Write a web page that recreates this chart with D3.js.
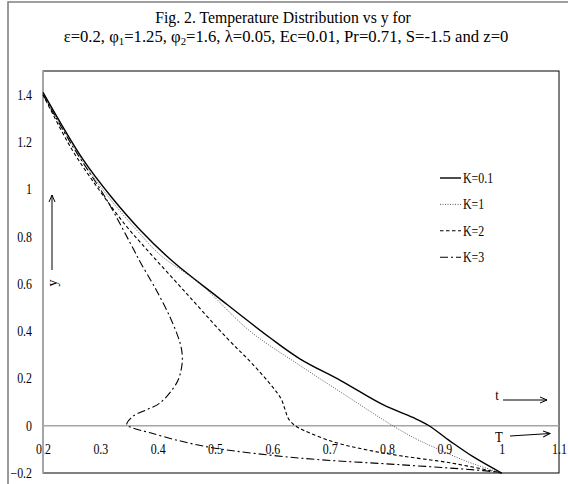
<!doctype html>
<html lang="en">
<head>
    <meta charset="utf-8">
    <title>Fig. 2 Temperature Distribution</title>
    <script src="https://d3js.org/d3.v7.min.js"></script>
    <style>
        body { margin: 0; background: #fff; }
        text { font-family: "Liberation Serif", "Times New Roman", serif; fill: #000; }
    </style>
</head>
<body>
<script>
    const width  = 568;
    const height = 484;

    // tick labels
    const xTicks = [0.2, 0.3, 0.4, 0.5, 0.6, 0.7, 0.8, 0.9, 1, 1.1];
    const yTicks = [-0.2, 0, 0.2, 0.4, 0.6, 0.8, 1, 1.2, 1.4];

    // series, [T, y] pairs
    const seriesNames = ["K=0.1", "K=1", "K=2", "K=3"];
    const curveK01 = [[0.2,1.41],[0.27,1.125],[0.32,0.965],[0.369,0.829],[0.427,0.693],[0.503,0.547],
        [0.596,0.372],[0.648,0.283],[0.72,0.19],[0.793,0.089],[0.845,0.035],[0.872,0.002],
        [0.91,-0.065],[0.95,-0.131],[1.0,-0.2]];
    const curveK1 = [[0.2,1.4],[0.27,1.115],[0.32,0.95],[0.369,0.812],[0.404,0.723],[0.474,0.6],
        [0.561,0.4],[0.648,0.255],[0.73,0.125],[0.81,0.0],[0.85,-0.055],[0.88,-0.089],
        [0.94,-0.152],[1.0,-0.2]];
    const curveK2 = [[0.2,1.4],[0.25,1.17],[0.3,0.99],[0.345,0.845],[0.381,0.745],[0.45,0.56],
        [0.521,0.37],[0.565,0.262],[0.6,0.165],[0.615,0.115],[0.622,0.07],[0.628,0.03],
        [0.64,0.0],[0.655,-0.02],[0.706,-0.068],[0.76,-0.1],[0.823,-0.127],[0.91,-0.157],[1.0,-0.2]];
    const curveK3 = [[0.2,1.4],[0.252,1.18],[0.311,0.956],[0.357,0.75],[0.37,0.69],[0.395,0.585],
        [0.421,0.462],[0.439,0.35],[0.443,0.293],[0.441,0.237],[0.433,0.18],[0.404,0.096],
        [0.381,0.068],[0.357,0.04],[0.346,0.004],[0.355,-0.008],[0.387,-0.03],[0.44,-0.065],
        [0.5,-0.095],[0.648,-0.137],[0.823,-0.165],[0.967,-0.19],[1.0,-0.2]];
    const curves = [curveK01, curveK1, curveK2, curveK3];

    // line styles per series
    const dashes  = [null, "1 1.5", "3.5 2.5", "8 3 2 3"];
    const colours = ["#000", "#444", "#000", "#000"];
    const widths  = [1.4, 0.9, 1.1, 1.1];

    const svg = d3.select("body").append("svg")
        .attr("width", width)
        .attr("height", height);

    svg.append("defs").append("marker")
        .attr("id", "arrow")
        .attr("viewBox", "0 0 8 8")
        .attr("refX", 7).attr("refY", 4)
        .attr("markerWidth", 8).attr("markerHeight", 8)
        .attr("markerUnits", "userSpaceOnUse")
        .attr("orient", "auto")
        .append("path")
        .attr("d", "M0,1 L7,4 L0,7")
        .attr("fill", "none")
        .attr("stroke", "#000")
        .attr("stroke-width", 1);

    // outer frame
    svg.append("path")
        .attr("d", "M8," + height + " L8,2 L" + width + ",2")
        .attr("fill", "none")
        .attr("stroke", "#808080")
        .attr("stroke-width", 1.6);

    // scales
    const x = d3.scaleLinear().domain([0.2, 1.1]).range([43, 559]);
    const y = d3.scaleLinear().domain([-0.2, 1.5]).range([473, 71]);

    // plot border
    svg.append("rect")
        .attr("x", x(0.2)).attr("y", y(1.5))
        .attr("width", x(1.1) - x(0.2))
        .attr("height", y(-0.2) - y(1.5))
        .attr("fill", "none")
        .attr("stroke", "#000")
        .attr("stroke-width", 1);

    // title
    function fit(sel, target) {
        const w = sel.node().getComputedTextLength();
        const t = sel.attr("data-t");
        sel.attr("transform", t + " scale(" + (target / w) + ",1)");
    }
    const t1 = svg.append("text")
        .attr("data-t", "translate(283,22.5)")
        .attr("text-anchor", "middle")
        .attr("font-size", 17)
        .text("Fig. 2. Temperature Distribution vs y for");
    fit(t1, 256);

    const t2 = svg.append("text")
        .attr("data-t", "translate(286,41.5)")
        .attr("text-anchor", "middle")
        .attr("font-size", 17);
    t2.append("tspan").text("ε=0.2, φ");
    t2.append("tspan").attr("font-size", 11).attr("dy", 3).text("1");
    t2.append("tspan").attr("dy", -3).text("=1.25, φ");
    t2.append("tspan").attr("font-size", 11).attr("dy", 3).text("2");
    t2.append("tspan").attr("dy", -3).text("=1.6, λ=0.05, Ec=0.01, Pr=0.71, S=-1.5 and z=0");
    fit(t2, 445);

    // axes
    const yAxis = svg.append("g")
        .attr("transform", "translate(" + x(0.2) + ",0)")
        .call(d3.axisLeft(y).tickValues(yTicks).tickSize(0).tickFormat(d3.format("")));
    yAxis.select(".domain").remove();
    yAxis.selectAll("text")
        .attr("x", 0)
        .attr("font-size", 14)
        .attr("font-family", "Liberation Serif")
        .attr("transform", "translate(-11,0) scale(0.85,1)");

    const xAxis = svg.append("g")
        .attr("transform", "translate(0," + y(0) + ")")
        .call(d3.axisBottom(x).tickValues(xTicks).tickSize(0).tickPadding(18).tickFormat(d3.format("")));
    xAxis.select(".domain").remove();
    xAxis.selectAll("text")
        .attr("font-size", 14)
        .attr("font-family", "Liberation Serif")
        .attr("transform", "scale(0.85,1)");

    // gray axis lines
    svg.append("line")
        .attr("x1", x(0.2)).attr("x2", x(1.1))
        .attr("y1", y(0)).attr("y2", y(0))
        .attr("stroke", "#a6a6a6").attr("stroke-width", 1.6);
    svg.append("line")
        .attr("x1", x(0.2)).attr("x2", x(0.2))
        .attr("y1", y(1.5)).attr("y2", y(-0.2))
        .attr("stroke", "#a6a6a6").attr("stroke-width", 2);

    // curves
    const line = d3.line()
        .x(d => x(d[0]))
        .y(d => y(d[1]))
        .curve(d3.curveCatmullRom.alpha(0.5));

    svg.selectAll("path.series")
        .data(curves)
        .enter()
        .append("path")
        .attr("class", "series")
        .attr("d", line)
        .attr("fill", "none")
        .attr("stroke", (d, i) => colours[i])
        .attr("stroke-width", (d, i) => widths[i])
        .attr("stroke-dasharray", (d, i) => dashes[i]);

    // legend
    const legend = svg.selectAll("g.legend")
        .data(seriesNames)
        .enter()
        .append("g")
        .attr("class", "legend")
        .attr("transform", (d, i) => "translate(440," + (178 + i * 26.4) + ")");
    legend.append("line")
        .attr("x1", 0).attr("x2", 21)
        .attr("stroke", (d, i) => colours[i])
        .attr("stroke-width", (d, i) => widths[i])
        .attr("stroke-dasharray", (d, i) => dashes[i]);
    legend.append("text")
        .attr("font-size", 14)
        .attr("transform", "translate(23,5) scale(0.85,1)")
        .text(d => d);

    // annotations: t, T and y with arrows
    svg.append("text")
        .attr("font-size", 15)
        .attr("text-anchor", "middle")
        .attr("transform", "translate(497,400) scale(0.85,1)")
        .text("t");
    svg.append("line")
        .attr("x1", 503).attr("y1", 400).attr("x2", 547).attr("y2", 400)
        .attr("stroke", "#000").attr("stroke-width", 1)
        .attr("marker-end", "url(#arrow)");

    svg.append("text")
        .attr("font-size", 15)
        .attr("text-anchor", "middle")
        .attr("transform", "translate(499,442) scale(0.85,1)")
        .text("T");
    svg.append("line")
        .attr("x1", 510).attr("y1", 436).attr("x2", 550).attr("y2", 433.5)
        .attr("stroke", "#000").attr("stroke-width", 1)
        .attr("marker-end", "url(#arrow)");

    svg.append("line")
        .attr("x1", 52).attr("y1", 270).attr("x2", 52).attr("y2", 195)
        .attr("stroke", "#000").attr("stroke-width", 1)
        .attr("marker-end", "url(#arrow)");
    svg.append("text")
        .attr("font-size", 14)
        .attr("text-anchor", "middle")
        .attr("transform", "translate(57,283) rotate(-90)")
        .text("y");
</script>
</body>
</html>
